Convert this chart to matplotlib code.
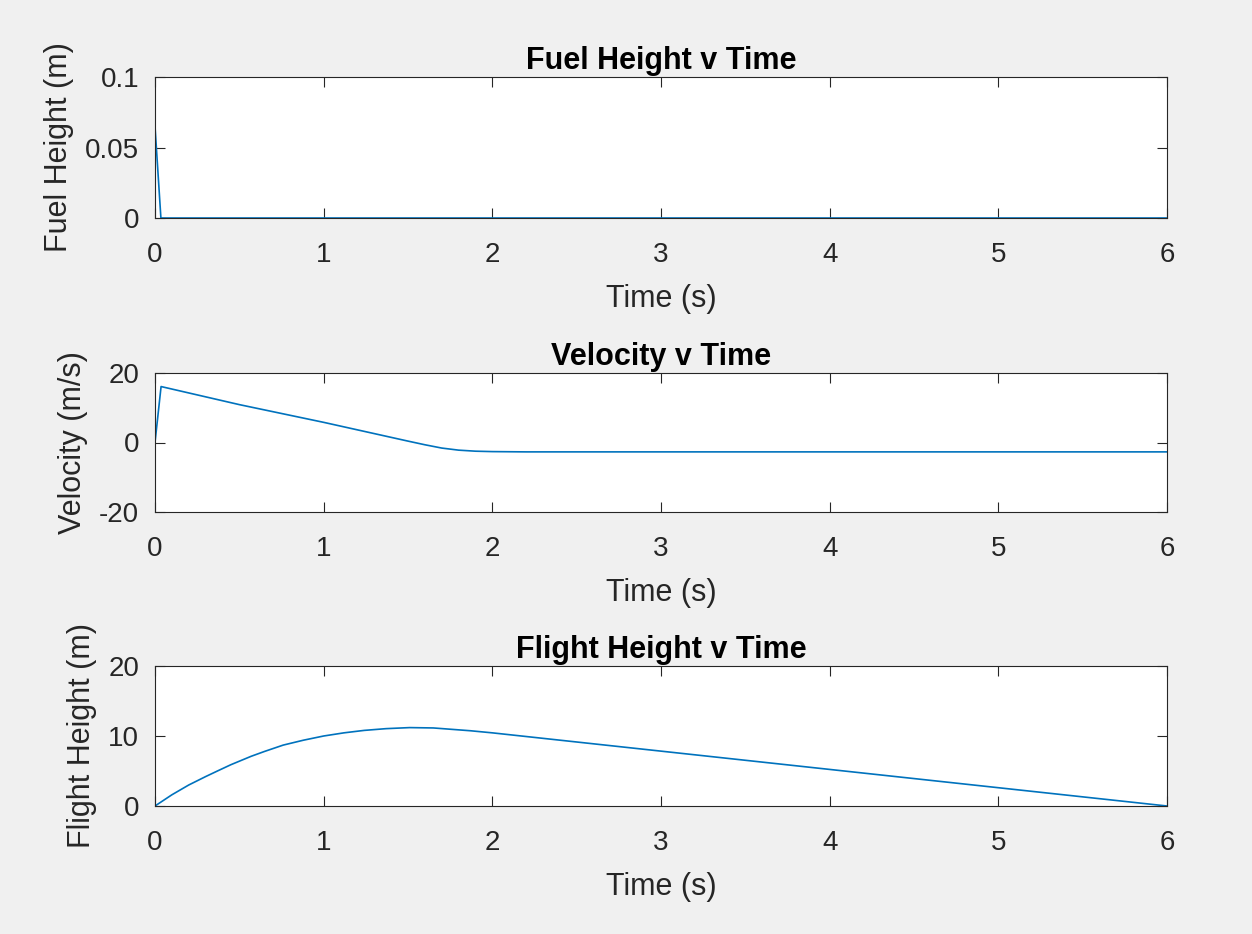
import matplotlib
matplotlib.use("Agg")
import matplotlib.pyplot as plt

# ---- data ----
t_fuel = [0.0, 0.035, 6.0]
fuel_height = [0.065, 0.0, 0.0]

t_vel = [0.0, 0.036, 0.5, 1.0, 1.5, 1.6, 1.7, 1.8, 1.9, 2.0, 2.2, 6.0]
velocity = [0.0, 16.1, 10.9, 5.8, 0.4, -0.65, -1.6, -2.2, -2.5, -2.62, -2.7, -2.7]

t_h = [0.0, 0.05, 0.1, 0.2, 0.3, 0.37, 0.45, 0.57, 0.65, 0.76, 0.88, 1.0, 1.12,
       1.24, 1.37, 1.51, 1.65, 1.87, 2.0, 6.0]
flight_height = [0.0, 0.8, 1.6, 3.0, 4.2, 5.0, 5.9, 7.1, 7.8, 8.7, 9.4, 10.0, 10.45,
                 10.8, 11.05, 11.2, 11.15, 10.75, 10.45, 0.0]

x_ticks = [0, 1, 2, 3, 4, 5, 6]
fuel_yticks = [0, 0.05, 0.1]
fuel_yticklabels = ["0", "0.05", "0.1"]
vel_yticks = [-20, 0, 20]
vel_yticklabels = ["-20", "0", "20"]
h_yticks = [0, 10, 20]
h_yticklabels = ["0", "10", "20"]

titles = ["Fuel Height v Time", "Velocity v Time", "Flight Height v Time"]
ylabels = ["Fuel Height (m)", "Velocity (m/s)", "Flight Height (m)"]

# ---- styling ----
plt.rcParams['font.family'] = ['Liberation Sans', 'DejaVu Sans']
plt.rcParams['axes.unicode_minus'] = False
BG = "#f0f0f0"
AX = "#262626"
LINE = "#0072BD"

W, H = 1252, 934
fig = plt.figure(figsize=(W / 100, H / 100), dpi=100, facecolor=BG)

def frac(left, top, right, bottom):
    return [left / W, 1 - bottom / H, (right - left) / W, (bottom - top) / H]

positions = [frac(155, 77, 1167, 218), frac(155, 373, 1167, 512), frac(155, 666, 1167, 806)]
series = [(t_fuel, fuel_height, (0, 0.1), fuel_yticks, fuel_yticklabels),
          (t_vel, velocity, (-20, 20), vel_yticks, vel_yticklabels),
          (t_h, flight_height, (0, 20), h_yticks, h_yticklabels)]

for pos, (xs, ys, ylim, yt, ytl), title, ylab in zip(positions, series, titles, ylabels):
    ax = fig.add_axes(pos)
    ax.set_facecolor("white")
    ax.plot(xs, ys, color=LINE, lw=1.2)
    ax.set_xlim(0, 6)
    ax.set_ylim(*ylim)
    ax.set_xticks(x_ticks)
    ax.set_xticklabels([str(v) for v in x_ticks])
    ax.set_yticks(yt)
    ax.set_yticklabels(ytl)
    ax.tick_params(direction="in", length=7.5, width=0.8, colors=AX, labelsize=20,
                   top=True, right=True)
    ax.tick_params(axis="x", pad=17)
    ax.tick_params(axis="y", pad=11.5)
    for sp in ax.spines.values():
        sp.set_color(AX)
        sp.set_linewidth(0.8)
    ax.set_title(title, fontsize=22, fontweight="bold", color="black", pad=6)
    ax.set_xlabel("Time (s)", fontsize=22, color=AX, labelpad=12)
    ax.set_ylabel(ylab, fontsize=22, color=AX, labelpad=8)

fig.savefig("out.png", dpi=100, facecolor=BG)
